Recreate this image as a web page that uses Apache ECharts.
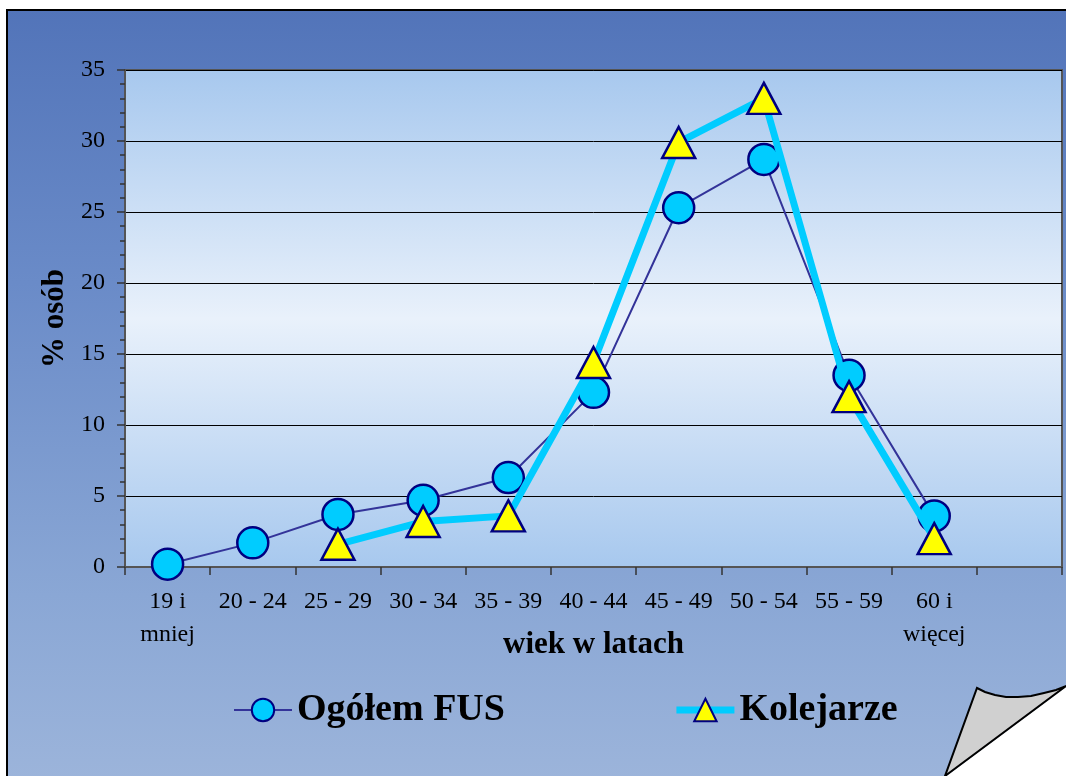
<!DOCTYPE html>
<html>
<head>
<meta charset="utf-8">
<script src="https://cdn.jsdelivr.net/npm/echarts@6/dist/echarts.min.js"></script>
<style>
html,body{margin:0;padding:0;background:#fff;}
#chart{width:1066px;height:776px;}
</style>
</head>
<body>
<div id="chart"></div>
<script>
const categories = ['19 i\nmniej', '20 - 24', '25 - 29', '30 - 34', '35 - 39', '40 - 44', '45 - 49', '50 - 54', '55 - 59', '60 i\nwięcej', ''];
const ogolemFUS = [0.2, 1.7, 3.7, 4.7, 6.3, 12.3, 25.3, 28.7, 13.5, 3.6];
const kolejarze = [null, null, 1.6, 3.2, 3.6, 14.4, 29.9, 33.0, 12.0, 2.0];
const seriesNames = ['Ogółem FUS', 'Kolejarze'];
const yTicks = {min: 0, max: 35, interval: 5};

const serif = '"Liberation Serif", "Times New Roman", serif';
const chart = echarts.init(document.getElementById('chart'));

// page-curl decoration outline (curved top edge)
const curlPoints = [[977, 688], [985, 692], [995, 695], [1006, 697], [1018, 697], [1031, 696], [1044, 693], [1056, 690], [1066, 686], [945, 776]];

const option = {
  animation: false,
  graphic: [
    {
      type: 'rect', z: -100, silent: true,
      shape: {x: 7, y: 10, width: 1070, height: 780},
      style: {
        fill: new echarts.graphic.LinearGradient(0, 0, 0, 1, [
          {offset: 0, color: '#5274b9'},
          {offset: 0.35, color: '#6a8bc8'},
          {offset: 0.75, color: '#8aa7d5'},
          {offset: 1, color: '#9db5db'}
        ]),
        stroke: '#000', lineWidth: 2
      }
    },
    {
      type: 'polygon', z: 100, silent: true,
      shape: {points: [[945, 777], [1067, 686], [1067, 777]]},
      style: {fill: '#ffffff'}
    },
    {
      type: 'polygon', z: 101, silent: true,
      shape: {points: curlPoints},
      style: {fill: '#d0d0d0', stroke: '#000', lineWidth: 2}
    }
  ],
  grid: {
    left: 125, right: 4, top: 70, bottom: 209,
    show: true,
    backgroundColor: new echarts.graphic.LinearGradient(0, 0, 0, 1, [
      {offset: 0, color: '#a7c8ee'},
      {offset: 0.5, color: '#e9f1fb'},
      {offset: 1, color: '#a7c8ee'}
    ]),
    borderColor: '#555', borderWidth: 2
  },
  legend: {
    left: 228, top: 686,
    itemWidth: 58, itemHeight: 28, itemGap: 168,
    textStyle: {fontFamily: serif, fontWeight: 'bold', fontSize: 38, color: '#000'},
    data: [
      {name: seriesNames[0], lineStyle: {width: 2}},
      {name: seriesNames[1], lineStyle: {width: 7}}
    ]
  },
  xAxis: {
    type: 'category',
    data: categories,
    boundaryGap: true,
    name: 'wiek w latach',
    nameLocation: 'middle',
    nameGap: 62,
    nameMoveOverlap: false,
    nameTextStyle: {fontFamily: serif, fontWeight: 'bold', fontSize: 31, color: '#000'},
    axisLine: {lineStyle: {color: '#555', width: 2}},
    axisTick: {show: true, alignWithLabel: false, length: 8, lineStyle: {color: '#333', width: 1.5}},
    axisLabel: {fontFamily: serif, fontSize: 24, color: '#000', margin: 18, lineHeight: 33, interval: 0}
  },
  yAxis: {
    type: 'value',
    min: yTicks.min, max: yTicks.max, interval: yTicks.interval,
    name: '% osób',
    nameLocation: 'middle',
    nameGap: 54,
    nameRotate: 90,
    nameTextStyle: {fontFamily: serif, fontWeight: 'bold', fontSize: 31, color: '#000'},
    axisLine: {show: true, lineStyle: {color: '#555', width: 2}},
    axisTick: {show: true, length: 8, lineStyle: {color: '#333', width: 1.5}},
    minorTick: {show: true, splitNumber: 5, length: 5, lineStyle: {color: '#333', width: 1.5}},
    splitLine: {show: true, lineStyle: {color: '#000', width: 1}},
    axisLabel: {fontFamily: serif, fontSize: 24, color: '#000', margin: 20}
  },
  series: [
    {
      name: seriesNames[0],
      type: 'line',
      data: ogolemFUS,
      symbol: 'circle',
      symbolSize: 31,
      lineStyle: {color: '#333399', width: 2},
      itemStyle: {color: '#00ccff', borderColor: '#000080', borderWidth: 2.5},
      z: 2
    },
    {
      name: seriesNames[1],
      type: 'line',
      data: kolejarze,
      symbol: 'triangle',
      symbolSize: [33, 31],
      lineStyle: {color: '#00ccff', width: 7},
      itemStyle: {color: '#ffff00', borderColor: '#000080', borderWidth: 2.5},
      z: 3
    }
  ]
};
chart.setOption(option);
</script>
</body>
</html>
